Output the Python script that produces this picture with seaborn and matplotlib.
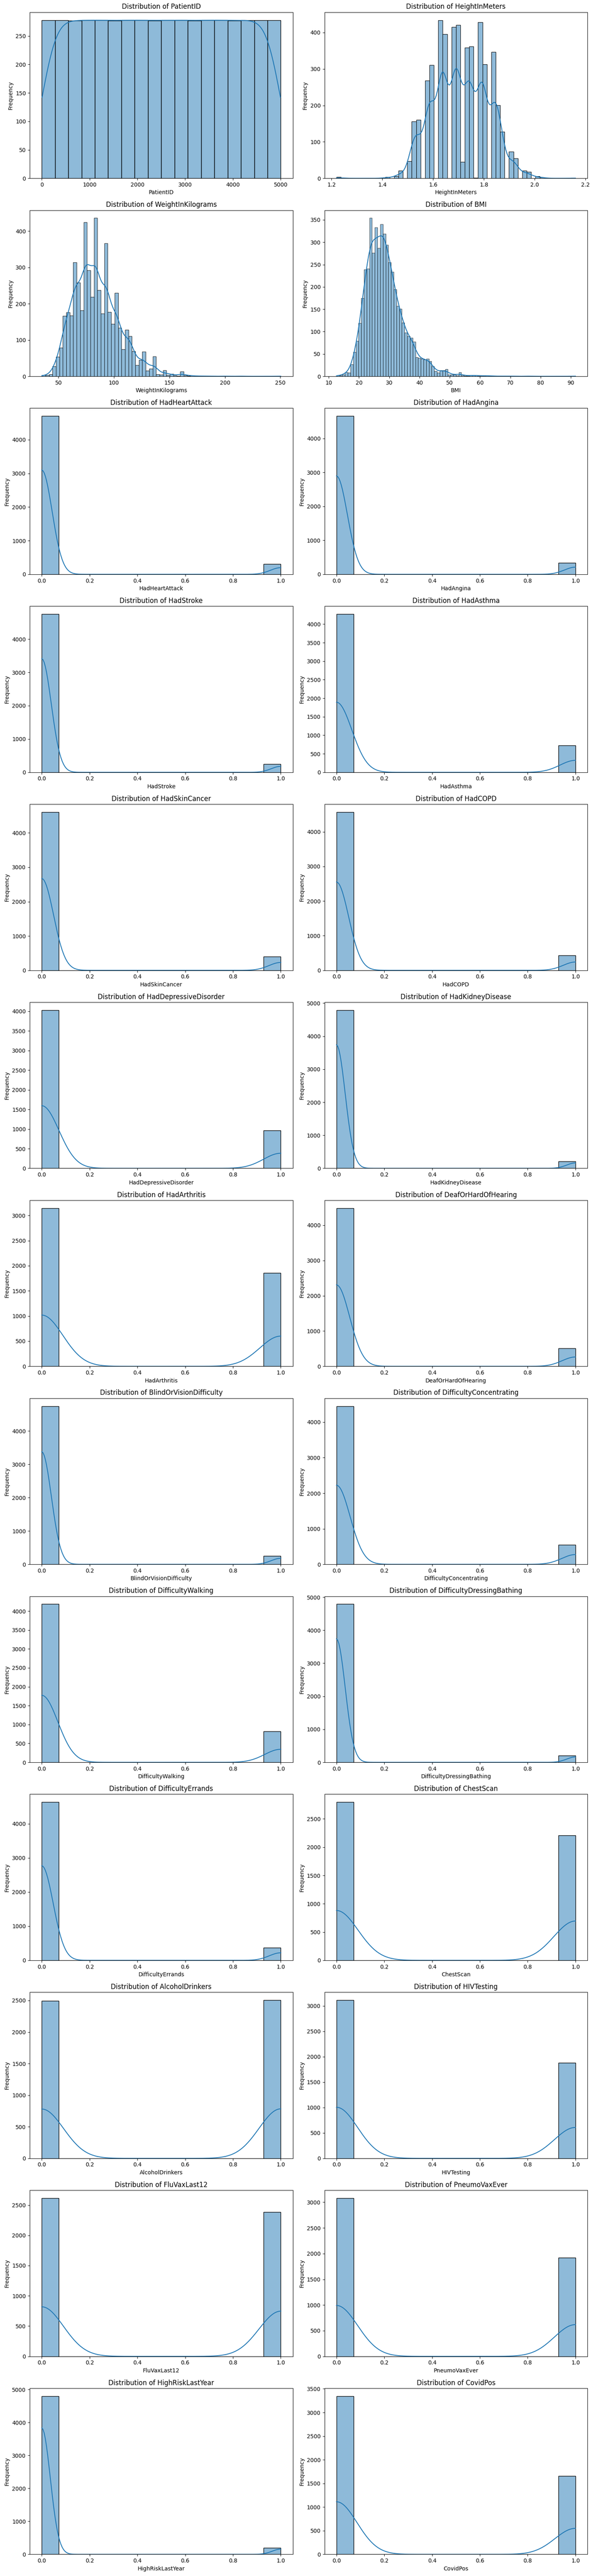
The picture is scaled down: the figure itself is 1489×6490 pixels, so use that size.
import numpy as np
import pandas as pd
import matplotlib
matplotlib.use("Agg")
import matplotlib.pyplot as plt
import seaborn as sns

# ---------------- data ----------------
# Continuous variables: histogram bin counts over (low, high) ranges
patient_id_range = (1, 5000)
patient_id_counts = [278, 278, 277, 278, 278, 277, 278, 278, 277,
                     278, 278, 277, 278, 278, 277, 278, 278, 278]

height_range = (1.22, 2.16)
height_counts = [3, 0, 0, 0, 0, 0, 0, 0, 0, 0,
                 0, 4, 0, 6, 21, 0, 47, 156, 160, 0,
                 268, 311, 0, 434, 396, 0, 415, 421, 45, 359,
                 362, 1, 428, 313, 0, 346, 201, 128, 0, 73,
                 55, 0, 21, 18, 0, 6, 2, 0, 0, 0,
                 0, 0, 0, 1]

weight_range = (35.3, 250.0)
weight_counts = [3, 3, 6, 27, 54, 79, 166, 176, 167, 314,
                 258, 182, 425, 292, 219, 436, 237, 173, 366, 177,
                 144, 230, 133, 74, 128, 111, 69, 31, 45, 68,
                 15, 21, 55, 6, 4, 17, 3, 7, 2, 1,
                 13, 2, 1, 2, 1, 0, 1, 1, 0, 0,
                 0, 0, 1, 0, 0, 0, 0, 1, 0, 0,
                 0, 0, 0, 0, 0, 0, 0, 0, 1]

bmi_range = (12.7, 91.4)
bmi_counts = [2, 2, 4, 9, 8, 27, 54, 79, 119, 175,
              239, 241, 354, 276, 333, 287, 340, 319, 294, 255,
              234, 195, 157, 151, 120, 98, 90, 86, 77, 43,
              41, 39, 37, 39, 34, 22, 12, 8, 13, 13,
              16, 4, 4, 4, 2, 9, 2, 1, 1, 2,
              2, 2, 1, 1, 1, 2, 1, 0, 1, 0,
              0, 1, 0, 0, 1, 0, 0, 0, 0, 0,
              1, 0, 0, 0, 0, 0, 0, 0, 0, 0,
              0, 0, 0, 0, 0, 0, 0, 1]

# Binary (0/1) variables: count of 0 and count of 1
binary_columns = ["HadHeartAttack", "HadAngina", "HadStroke", "HadAsthma",
                  "HadSkinCancer", "HadCOPD", "HadDepressiveDisorder",
                  "HadKidneyDisease", "HadArthritis", "DeafOrHardOfHearing",
                  "BlindOrVisionDifficulty", "DifficultyConcentrating",
                  "DifficultyWalking", "DifficultyDressingBathing",
                  "DifficultyErrands", "ChestScan", "AlcoholDrinkers",
                  "HIVTesting", "FluVaxLast12", "PneumoVaxEver",
                  "HighRiskLastYear", "CovidPos"]
binary_zero_counts = [4700, 4660, 4750, 4270, 4605, 4570, 4030, 4790, 3145, 4485,
                      4745, 4450, 4185, 4790, 4630, 2795, 2495, 3115, 2615, 3080,
                      4800, 3345]
binary_one_counts = [300, 340, 250, 730, 395, 430, 970, 210, 1855, 515,
                     255, 550, 815, 210, 370, 2205, 2505, 1885, 2385, 1920,
                     200, 1655]


def from_bins(counts, lo, hi):
    edges = np.linspace(lo, hi, len(counts) + 1)
    centers = (edges[:-1] + edges[1:]) / 2
    return np.repeat(centers, counts)


continuous = [
    ("PatientID", patient_id_counts, patient_id_range),
    ("HeightInMeters", height_counts, height_range),
    ("WeightInKilograms", weight_counts, weight_range),
    ("BMI", bmi_counts, bmi_range),
]

fig, axes = plt.subplots(13, 2, figsize=(14.89, 64.9), dpi=100)
fig.subplots_adjust(left=0.0504, right=0.994, top=0.99527, bottom=0.0084,
                    hspace=0.192, wspace=0.1207)
flat = axes.flatten()

i = 0
for name, counts, (lo, hi) in continuous:
    ax = flat[i]
    vals = pd.Series(from_bins(counts, lo, hi), name=name)
    sns.histplot(vals, bins=len(counts), binrange=(lo, hi), kde=True, ax=ax,
                 kde_kws={"cut": 0.5})
    ax.set_title(f"Distribution of {name}")
    ax.set_xlabel(name)
    ax.set_ylabel("Frequency")
    i += 1

for name, n0, n1 in zip(binary_columns, binary_zero_counts, binary_one_counts):
    ax = flat[i]
    vals = pd.Series(np.repeat([0, 1], [n0, n1]), name=name)
    sns.histplot(vals, bins=14, kde=True, ax=ax)
    ax.set_title(f"Distribution of {name}")
    ax.set_xlabel(name)
    ax.set_ylabel("Frequency")
    i += 1

fig.savefig("out.png", dpi=100)
